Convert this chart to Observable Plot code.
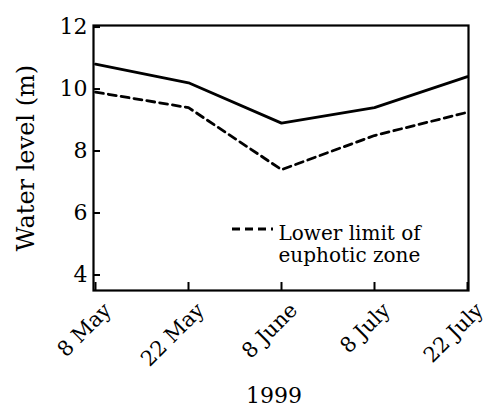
<!DOCTYPE html>
<html>
<head>
<meta charset="utf-8">
<script src="https://cdn.jsdelivr.net/npm/d3@7"></script>
<script src="https://cdn.jsdelivr.net/npm/@observablehq/plot@0.6"></script>
<style>
  body { margin: 0; background: #fff; }
</style>
</head>
<body>
<div id="chart"></div>
<script>
// Sampling dates (1999) and water levels in metres
const dates = ["8 May", "22 May", "8 June", "8 July", "22 July"];
const waterLevel = [10.8, 10.2, 8.9, 9.4, 10.4];
const euphoticLimit = [9.9, 9.4, 7.4, 8.5, 9.25];
const yTicks = [4, 6, 8, 10, 12];
const yearLabel = "1999";
const yLabel = "Water level (m)";
const legendLabel = "Lower limit of\neuphotic zone";

const levelRows = dates.map((d, i) => ({date: d, level: waterLevel[i]}));
const euphoticRows = dates.map((d, i) => ({date: d, level: euphoticLimit[i]}));

const font = "DejaVu Serif, serif";
const dash = "8,5";

// Legend key: a short dashed stroke placed inside the frame
const legendKey = (index, scales, values, dim) => {
  const x0 = dim.marginLeft + 139;
  const y0 = dim.marginTop + 204;
  return d3.create("svg:line")
    .attr("x1", x0).attr("x2", x0 + 41)
    .attr("y1", y0).attr("y2", y0)
    .attr("stroke", "black")
    .attr("stroke-width", 2.8)
    .attr("stroke-dasharray", dash)
    .node();
};

const chart = Plot.plot({
  width: 495,
  height: 407,
  marginLeft: 93,
  marginRight: 27,
  marginTop: 25,
  marginBottom: 117,
  style: {fontFamily: font, background: "white", color: "black"},
  x: {type: "point", domain: dates, padding: 0, axis: null},
  y: {domain: [3.5, 12.05], axis: null},
  marks: [
    // inward tick marks
    Plot.tickY(yTicks, {y: d => d, stroke: "black", strokeWidth: 2, insetRight: 368}),
    Plot.tickX(dates, {x: d => d, stroke: "black", strokeWidth: 2, insetTop: 257}),
    Plot.frame({stroke: "black", strokeWidth: 2.2}),
    // series
    Plot.line(levelRows, {x: "date", y: "level", stroke: "black", strokeWidth: 2.8}),
    Plot.line(euphoticRows, {x: "date", y: "level", stroke: "black", strokeWidth: 2.8, strokeDasharray: dash}),
    // y tick labels
    Plot.text(yTicks, {y: d => d, frameAnchor: "left", textAnchor: "end", lineAnchor: "middle", dx: -6, fontSize: 22}),
    // x tick labels, rotated
    Plot.text(dates, {x: d => d, frameAnchor: "bottom", rotate: -45, textAnchor: "end", lineAnchor: "bottom", dx: 17, dy: 21, fontSize: 21}),
    // axis titles
    Plot.text([yLabel], {frameAnchor: "left", rotate: -90, textAnchor: "middle", lineAnchor: "middle", dx: -67, fontSize: 24}),
    Plot.text([yearLabel], {frameAnchor: "bottom", textAnchor: "middle", lineAnchor: "bottom", dx: -7, dy: 112, fontSize: 22}),
    // legend
    legendKey,
    Plot.text([legendLabel], {frameAnchor: "top-left", textAnchor: "start", lineAnchor: "top", lineHeight: 1.1, dx: 185, dy: 199, fontSize: 20})
  ]
});

document.getElementById("chart").appendChild(chart);
</script>
</body>
</html>
